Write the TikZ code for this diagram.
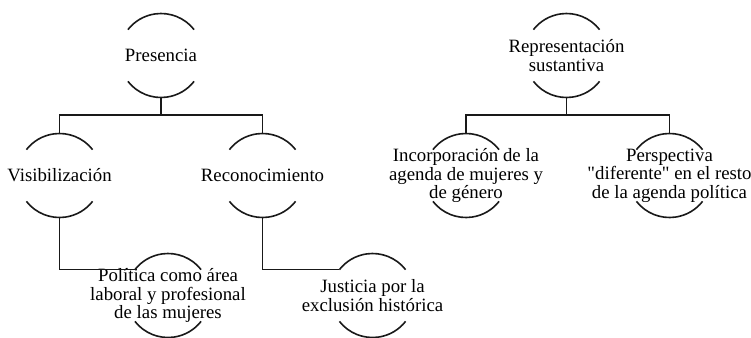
\documentclass[tikz,border=0pt]{standalone}
\usepackage{fontspec}
\setmainfont{Liberation Serif}
\newfontfamily\qfont[Ligatures=ResetAll]{Liberation Serif}
\newcommand{\sq}{{\qfont"}}
\usetikzlibrary{calc}
\begin{document}
\begin{tikzpicture}[x=1bp,y=1bp,
  lbl/.style={align=center,inner sep=0pt,font=\fontsize{18.8bp}{18.6bp}\selectfont,text=black},
  arcline/.style={line width=1.6bp,draw=black!90},
  conn/.style={line width=1.6bp,draw=black!90}]
\useasboundingbox (0,0) rectangle (751,337);
% nodes
\node[lbl] (pres) at (161,281.5) {Presencia};
\node[lbl] (vis) at (59.5,161.5) {Visibilización};
\node[lbl] (rec) at (262.5,161.5) {Reconocimiento};
\node[lbl] (pol) at (168,41.5) {Política como área\\laboral y profesional\\de las mujeres};
\node[lbl] (jus) at (372.5,41.5) {Justicia por la\\exclusión histórica};
\node[lbl] (rep) at (566.5,281.5) {Representación\\sustantiva};
\node[lbl] (inc) at (466,161.5) {Incorporación de la\\agenda de mujeres y\\de género};
\node[lbl] (per) at (669.5,161.5) {Perspectiva\\\sq diferente\sq{} en el resto\\de la agenda política};
% arcs and anchor coordinates
\foreach \n in {pres,vis,rec,pol,jus,rep,inc,per}{
  \draw[arcline] (\n.center) ++(38:42) arc[start angle=38,end angle=142,radius=42];
  \draw[arcline] (\n.center) ++(218:42) arc[start angle=218,end angle=322,radius=42];
  \coordinate (\n-t) at ($(\n.center)+(0,42)$);
  \coordinate (\n-b) at ($(\n.center)+(0,-42)$);
  \coordinate (\n-l) at ($(\n.center)+(142:42)$);
}
\coordinate (pres-j) at ($(pres-b)+(0,-17.5)$);
\coordinate (rep-j) at ($(rep-b)+(0,-17.5)$);
% connectors
\draw[conn] (pres-b) -- (pres-j);
\draw[conn] (vis-t) |- (pres-j) -| (rec-t);
\draw[conn] (vis-b) |- (pol-l);
\draw[conn] (rec-b) |- (jus-l);
\draw[conn] (rep-b) -- (rep-j);
\draw[conn] (inc-t) |- (rep-j) -| (per-t);
\end{tikzpicture}
\end{document}
